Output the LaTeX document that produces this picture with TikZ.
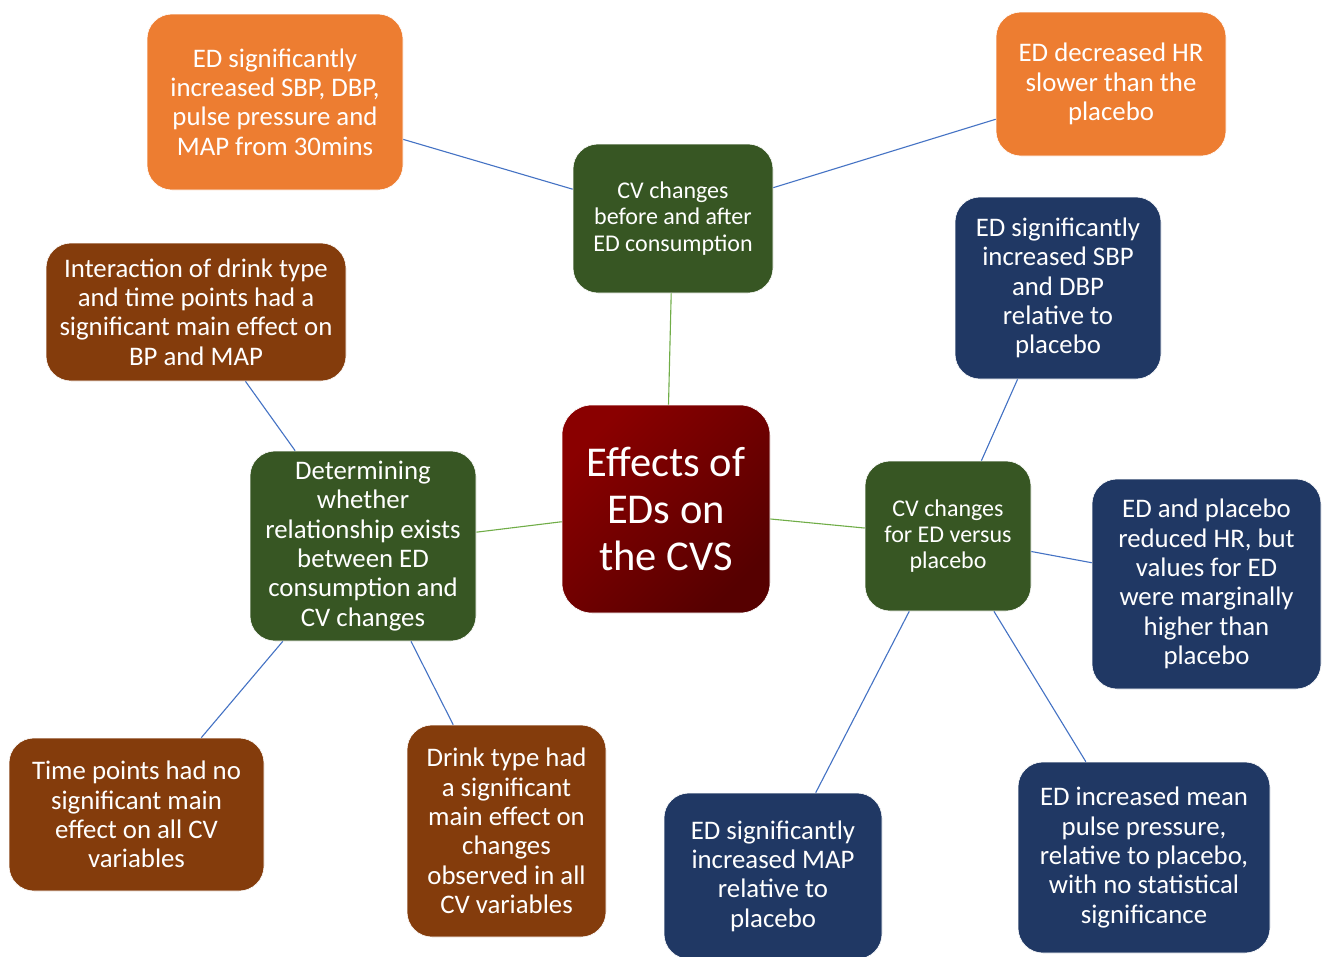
\documentclass[tikz,border=0pt]{standalone}
\usepackage{fontspec}
\setmainfont{Carlito}
\definecolor{orangeb}{HTML}{ED7D31}
\definecolor{greenb}{HTML}{375623}
\definecolor{brownb}{HTML}{843C0C}
\definecolor{navyb}{HTML}{203864}
\definecolor{blueln}{HTML}{4472C4}
\definecolor{greenln}{HTML}{70AD47}
\definecolor{redtop}{HTML}{8A0000}
\definecolor{redbot}{HTML}{560000}
\tikzset{
  box/.style={rectangle, rounded corners=25pt, text=white, align=center, inner sep=0pt, draw=white, line width=0.6pt,
    font=\fontsize{26.8}{29.3}\selectfont},
  smallbox/.style={box, font=\fontsize{24}{26.3}\selectfont},
  orangebox/.style={box, fill=orangeb},
  greenbox/.style={box, fill=greenb},
  greensmall/.style={smallbox, fill=greenb},
  brownbox/.style={box, fill=brownb},
  navybox/.style={box, fill=navyb},
  centerbox/.style={box, rounded corners=30pt, top color=redtop, bottom color=redbot, shading angle=45,
    font=\fontsize{42.5}{47}\selectfont},
  bline/.style={draw=blueln, line width=1.1pt},
  gline/.style={draw=greenln, line width=1.1pt},
}
\begin{document}
\begin{tikzpicture}[x=1pt,y=-1pt]
\useasboundingbox (0,0) rectangle (1322,956);
\fill[white] (0,0) rectangle (1322,956);
\path
  (275,102) coordinate (cO1)
  (1111,84) coordinate (cO2)
  (673,218.5) coordinate (cGT)
  (196,312) coordinate (cB1)
  (1058,288) coordinate (cN1)
  (666,509) coordinate (cC)
  (363,546) coordinate (cGL)
  (948,536) coordinate (cGR)
  (1206.5,584) coordinate (cN2)
  (136.5,814.5) coordinate (cB2)
  (506.5,831) coordinate (cB3)
  (773,876) coordinate (cN3)
  (1144,857.5) coordinate (cN4);

\node[orangebox, minimum width=256pt, minimum height=176pt] (o1) at (cO1) {ED significantly\\increased SBP, DBP,\\pulse pressure and\\MAP from 30mins};
\node[orangebox, minimum width=230pt, minimum height=144pt] (o2) at (cO2) {ED decreased HR\\slower than the\\placebo};
\node[greensmall, minimum width=200pt, minimum height=149pt] (gt) at (cGT) {CV changes\\before and after\\ED consumption};
\node[brownbox, minimum width=300pt, minimum height=138pt] (b1) at (cB1) {Interaction of drink type\\and time points had a\\significant main effect on\\BP and MAP};
\node[navybox, minimum width=206pt, minimum height=182pt] (n1) at (cN1) {ED significantly\\increased SBP\\and DBP\\relative to\\placebo};
\node[centerbox, minimum width=208pt, minimum height=208pt] (c) at (cC) {Effects of\\EDs on\\the CVS};
\node[greenbox, minimum width=226pt, minimum height=190pt] (gl) at (cGL) {Determining\\whether\\relationship exists\\between ED\\consumption and\\CV changes};
\node[greensmall, minimum width=166pt, minimum height=150pt] (gr) at (cGR) {CV changes\\for ED versus\\placebo};
\node[navybox, minimum width=229pt, minimum height=210pt] (n2) at (cN2) {ED and placebo\\reduced HR, but\\values for ED\\were marginally\\higher than\\placebo};
\node[brownbox, minimum width=255pt, minimum height=153pt] (b2) at (cB2) {Time points had no\\significant main\\effect on all CV\\variables};
\node[brownbox, minimum width=199pt, minimum height=212pt] (b3) at (cB3) {Drink type had\\a significant\\main effect on\\changes\\observed in all\\CV variables};
\node[navybox, minimum width=218pt, minimum height=166pt] (n3) at (cN3) {ED significantly\\increased MAP\\relative to\\placebo};
\node[navybox, minimum width=252pt, minimum height=191pt] (n4) at (cN4) {ED increased mean\\pulse pressure,\\relative to placebo,\\with no statistical\\significance};

\draw[bline] (gt) -- (o1);
\draw[bline] (gt) -- (o2);
\draw[gline] (gt) -- (c);
\draw[gline] (c) -- (gl);
\draw[gline] (c) -- (gr);
\draw[bline] (gl) -- (b1);
\draw[bline] (gl) -- (b2);
\draw[bline] (gl) -- (b3);
\draw[bline] (gr) -- (n1);
\draw[bline] (gr) -- (n2);
\draw[bline] (gr) -- (n3);
\draw[bline] (gr) -- (n4);
\end{tikzpicture}
\end{document}
